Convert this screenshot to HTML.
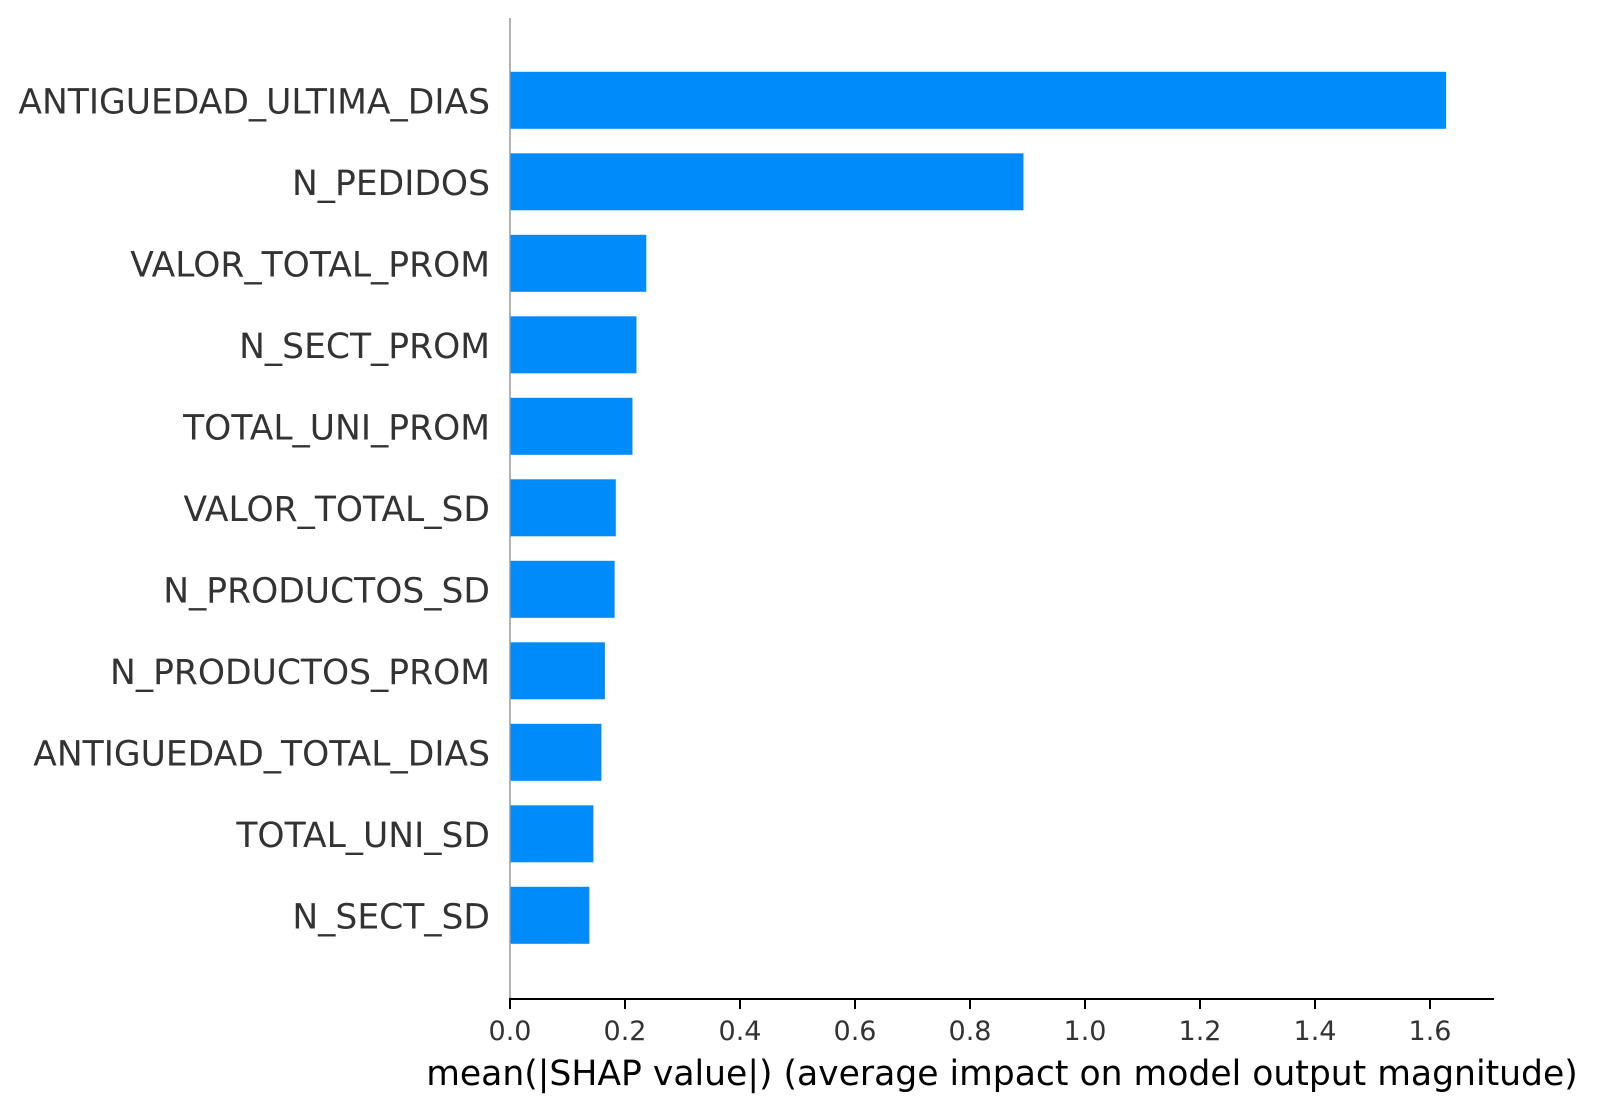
<!DOCTYPE html>
<html><head><meta charset="utf-8"><style>
html,body{margin:0;padding:0;background:#fff;}
svg{display:block;font-family:"DejaVu Sans","Liberation Sans",sans-serif;}
</style></head><body>
<svg id="chart" width="1597" height="1111" viewBox="0 0 1597 1111">
<g id="bars"></g>
<g id="ylabels"></g>
<line x1="510" y1="18" x2="510" y2="999" stroke="#999" stroke-width="1.5"/>
<line x1="509" y1="999" x2="1494" y2="999" stroke="#000" stroke-width="2"/>
<g id="xticks"></g>
<text x="1002" y="1085" font-size="34.6" text-anchor="middle" fill="#000">mean(|SHAP value|) (average impact on model output magnitude)</text>
</svg>
<script>
const features = ["ANTIGUEDAD_ULTIMA_DIAS","N_PEDIDOS","VALOR_TOTAL_PROM","N_SECT_PROM","TOTAL_UNI_PROM","VALOR_TOTAL_SD","N_PRODUCTOS_SD","N_PRODUCTOS_PROM","ANTIGUEDAD_TOTAL_DIAS","TOTAL_UNI_SD","N_SECT_SD"];
const values = [1.628,0.893,0.237,0.220,0.213,0.184,0.182,0.165,0.159,0.145,0.138];
const tickValues = [0,0.2,0.4,0.6,0.8,1.0,1.2,1.4,1.6];
const tickLabels = ["0.0","0.2","0.4","0.6","0.8","1.0","1.2","1.4","1.6"];
const NS="http://www.w3.org/2000/svg";
const x0=510, xs=575;
function xScale(v){return x0+v*xs;}
function yScale(i){return 100.3+i*81.5;}
const barH=57;
const gb=document.getElementById('bars'), gl=document.getElementById('ylabels'), gt=document.getElementById('xticks');
features.forEach((f,i)=>{
  const r=document.createElementNS(NS,'rect');
  r.setAttribute('x',xScale(0));
  r.setAttribute('y',yScale(i)-barH/2);
  r.setAttribute('width',xScale(values[i])-xScale(0));
  r.setAttribute('height',barH);
  r.setAttribute('fill','#008bfb');
  
  
  gb.appendChild(r);
  const t=document.createElementNS(NS,'text');
  t.setAttribute('x',490);
  t.setAttribute('y',yScale(i)+13);
  t.setAttribute('font-size','34.5');
  t.setAttribute('text-anchor','end');
  t.setAttribute('fill','#333');
  t.textContent=f;
  
  
  gl.appendChild(t);
});
tickValues.forEach((v,i)=>{
  const x=xScale(v);
  const l=document.createElementNS(NS,'line');
  l.setAttribute('x1',x);l.setAttribute('x2',x);
  l.setAttribute('y1',999);l.setAttribute('y2',1009);
  l.setAttribute('stroke','#000');l.setAttribute('stroke-width','2');
  
  
  gt.appendChild(l);
  const t=document.createElementNS(NS,'text');
  t.setAttribute('x',x);t.setAttribute('y',1040);
  t.setAttribute('font-size','27');t.setAttribute('text-anchor','middle');
  t.setAttribute('fill','#333');
  t.textContent=tickLabels[i];
  
  
  gt.appendChild(t);
});
</script>
</body></html>
